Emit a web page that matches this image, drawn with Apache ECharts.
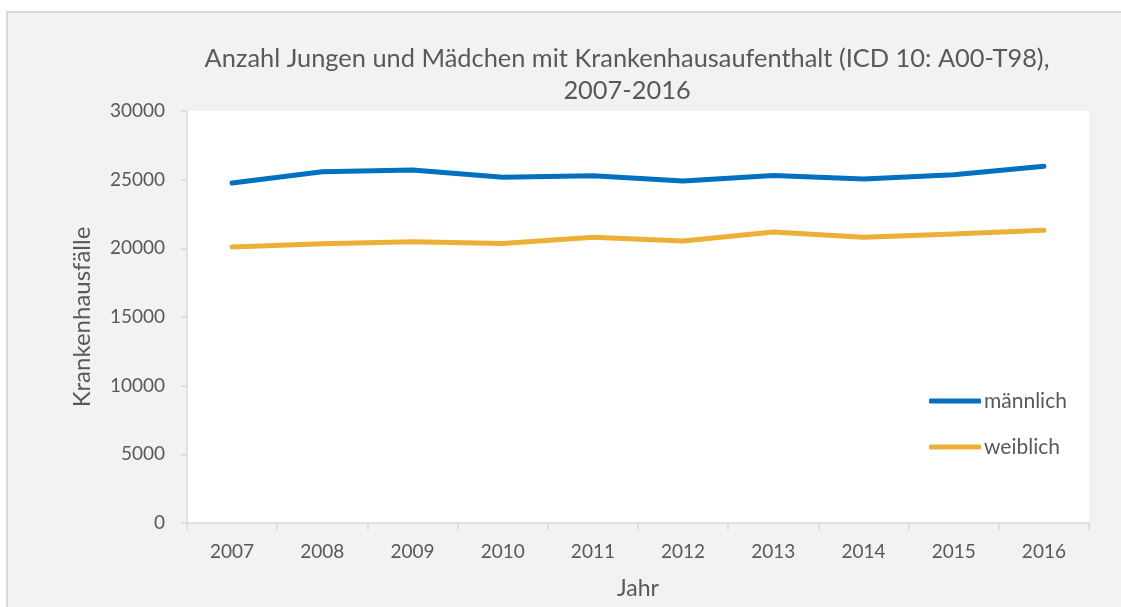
<!DOCTYPE html>
<html>
<head>
<meta charset="utf-8">
<script src="https://cdn.jsdelivr.net/npm/echarts@6/dist/echarts.min.js"></script>
<style>
html,body{margin:0;padding:0;background:#ffffff;}
#chart{position:absolute;left:0;top:0;width:1121px;height:607px;}
</style>
</head>
<body>
<div id="chart"></div>
<script>
const years = ['2007','2008','2009','2010','2011','2012','2013','2014','2015','2016'];
const maennlich = [24750, 25580, 25700, 25170, 25290, 24900, 25310, 25050, 25360, 25970];
const weiblich = [20100, 20340, 20480, 20360, 20800, 20530, 21190, 20800, 21040, 21310];
const yTicks = [0, 5000, 10000, 15000, 20000, 25000, 30000];

const FONT = 'Lato';
const TXT = '#595959';
const chart = echarts.init(document.getElementById('chart'));
const legendBase = {
  orient: 'vertical', left: 929, padding: 0,
  icon: 'roundRect', itemWidth: 52, itemHeight: 5, itemGap: 0,
  textStyle: {fontFamily: FONT, fontSize: 21, color: TXT, lineHeight: 22, padding: [0,0,0,-2]}
};
chart.setOption({
  backgroundColor: '#ffffff',
  animation: false,
  graphic: [{
    type: 'rect', z: -10, silent: true,
    shape: {x: 7, y: 12, width: 1200, height: 700},
    style: {fill: '#f2f2f2', stroke: '#d9d9d9', lineWidth: 2}
  }],
  title: {
    text: 'Anzahl Jungen und Mädchen mit Krankenhausaufenthalt (ICD 10: A00-T98),\n2007-2016',
    left: 622, top: 38, textAlign: 'center',
    textStyle: {fontFamily: FONT, fontSize: 25.4, fontWeight: 'normal', color: TXT, lineHeight: 32}
  },
  legend: [
    Object.assign({}, legendBase, {data: ['männlich'], top: 390}),
    Object.assign({}, legendBase, {data: ['weiblich'], top: 436})
  ],
  grid: {left: 187, right: 32, top: 111, bottom: 84, show: true, backgroundColor: '#ffffff', borderWidth: 0},
  xAxis: {
    type: 'category', data: years, boundaryGap: true,
    name: 'Jahr', nameLocation: 'middle', nameGap: 54,
    nameTextStyle: {fontFamily: FONT, fontSize: 23, color: TXT},
    axisLine: {show: true, lineStyle: {color: '#d9d9d9', width: 1.5}},
    axisTick: {show: true, length: 7, lineStyle: {color: '#d9d9d9', width: 1.5}},
    axisLabel: {fontFamily: FONT, fontSize: 19, color: TXT, margin: 19}
  },
  yAxis: {
    type: 'value', min: yTicks[0], max: yTicks[yTicks.length-1], interval: 5000,
    name: 'Krankenhausfälle', nameLocation: 'middle', nameGap: 93, nameRotate: 90,
    nameTextStyle: {fontFamily: FONT, fontSize: 24, color: TXT},
    axisLine: {show: true, lineStyle: {color: '#d9d9d9', width: 1.5}},
    axisTick: {show: true, length: 6, lineStyle: {color: '#d9d9d9', width: 1.5}},
    splitLine: {show: false},
    axisLabel: {fontFamily: FONT, fontSize: 19, color: TXT, margin: 22, formatter: v => String(v)}
  },
  series: [{
    name: 'männlich', type: 'line', data: maennlich, symbol: 'none',
    lineStyle: {color: '#0070C0', width: 5, cap: 'round', join: 'round'},
    itemStyle: {color: '#0070C0'}
  },{
    name: 'weiblich', type: 'line', data: weiblich, symbol: 'none',
    lineStyle: {color: '#EBB035', width: 5, cap: 'round', join: 'round'},
    itemStyle: {color: '#EBB035'}
  }]
});
</script>
</body>
</html>
